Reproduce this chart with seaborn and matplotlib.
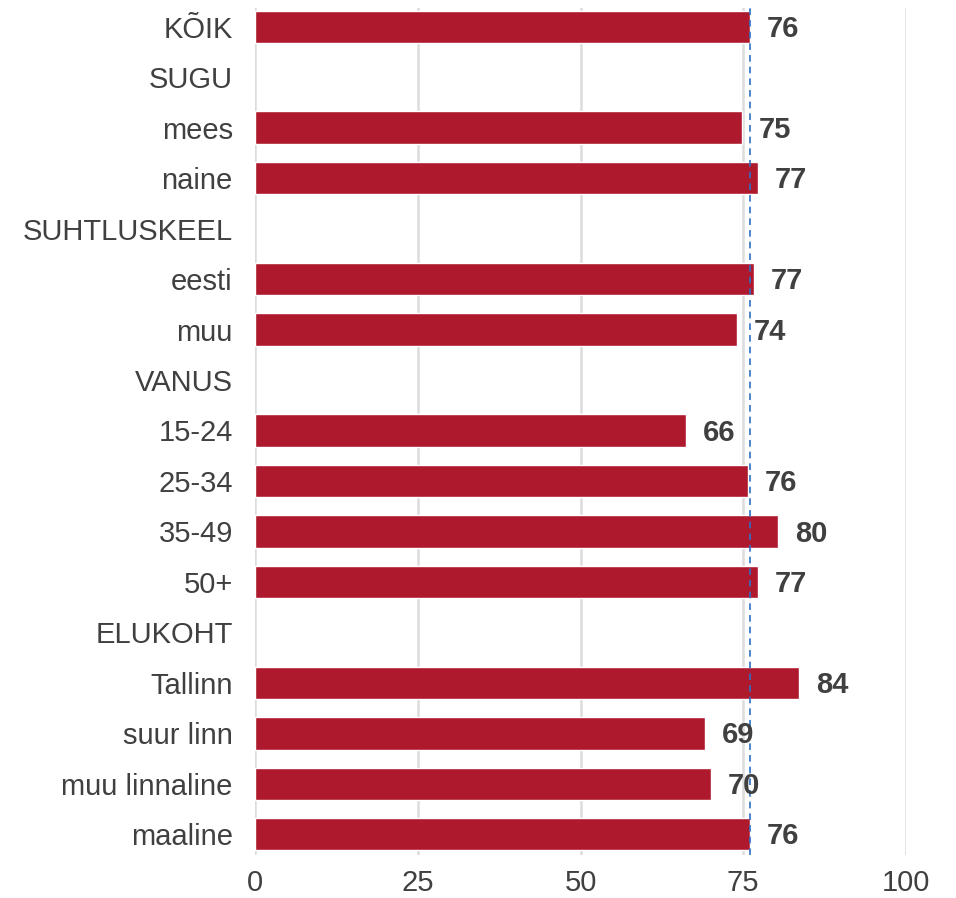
import numpy as np
import pandas as pd
import matplotlib
matplotlib.use("Agg")
import matplotlib.pyplot as plt
import seaborn as sns

# data
categories = ["KÕIK", "SUGU", "mees", "naine", "SUHTLUSKEEL", "eesti", "muu",
              "VANUS", "15-24", "25-34", "35-49", "50+", "ELUKOHT",
              "Tallinn", "suur linn", "muu linnaline", "maaline"]
values = [76.1, np.nan, 74.8, 77.3, np.nan, 76.6, 74.0,
          np.nan, 66.2, 75.7, 80.4, 77.3, np.nan,
          83.6, 69.2, 70.0, 76.1]
overall = 76.1
xticks = [0, 25, 50, 75, 100]

df = pd.DataFrame({"group": categories, "value": values})

sns.set_theme(style="white")
plt.rcParams["font.family"] = ["Liberation Sans", "DejaVu Sans"]

bar_color = "#AF192D"
text_color = "#404040"

fig = plt.figure(figsize=(9.56, 8.98), dpi=100)
ax = fig.add_axes([255 / 956, 1 - 855 / 898, (906 - 255) / 956, (855 - 8) / 898])

sns.barplot(data=df, x="value", y="group", orient="h", color=bar_color,
            saturation=1, width=0.64, ax=ax, zorder=3)

ax.set_xlim(0, 100)
ax.set_ylim(len(categories) - 1 + 0.41, -0.37)
ax.set_xticks(xticks)
ax.set_xticklabels([str(t) for t in xticks])
ax.grid(axis="x", color="#dcdcdc", linewidth=1.8, zorder=0)
ax.grid(axis="y", visible=False)
ax.axvline(overall, color="#2f6fc4", linestyle=(0, (4, 3)), linewidth=1.2, zorder=4)

for i, v in enumerate(values):
    if not np.isnan(v):
        ax.annotate(f"{v:.0f}", xy=(v, i), xytext=(12, -1.5), textcoords="offset points",
                    ha="left", va="center", fontsize=21, fontweight="bold",
                    color=text_color, zorder=5)

for s in ax.spines.values():
    s.set_visible(False)
ax.tick_params(axis="both", length=0, labelsize=21, colors=text_color)
ax.tick_params(axis="y", pad=16)
ax.tick_params(axis="x", pad=10)
ax.set_xlabel("")
ax.set_ylabel("")

fig.savefig("out.png", dpi=100)
